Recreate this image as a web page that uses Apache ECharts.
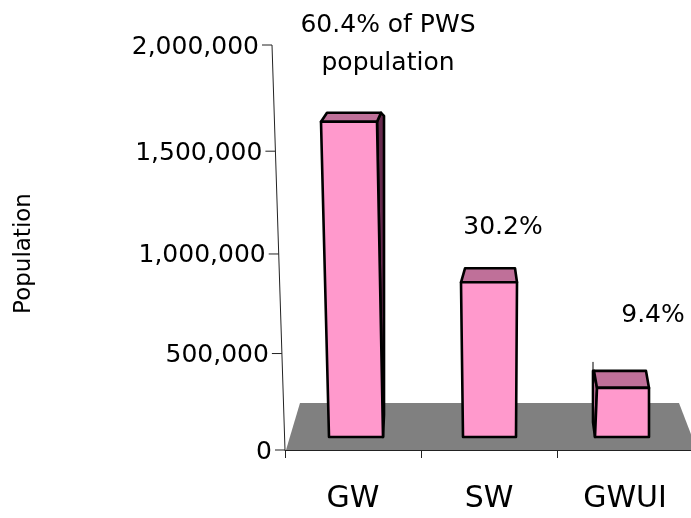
<!DOCTYPE html>
<html>
<head>
<meta charset="utf-8">
<style>html,body{margin:0;padding:0;background:#fff}#c{width:691px;height:518px}</style>
<script src="https://cdn.jsdelivr.net/npm/echarts@6/dist/echarts.min.js"></script>
</head>
<body>
<div id="c"></div>
<script>
const categories = ['GW', 'SW', 'GWUI'];
const population = [1650000, 810000, 257000];
const shares = ['60.4% of PWS\npopulation', '30.2%', '9.4%'];
const yTicks = [0, 500000, 1000000, 1500000, 2000000];
const yMax = 2000000;

const FONT = '"DejaVu Sans", sans-serif';
// Drawing geometry of the pseudo-3D look, px relative to each category centre.
const barShape = [
  {bl:-24, br:30, tl:-32, tr:24, bkl:-26, bkr:28, rise:9,  sideR:31, sideBottom:415, lx:35, ly:-68},
  {bl:-26, br:27, tl:-28, tr:28, bkl:-24, bkr:26, rise:14, lx:14, ly:-41},
  {bl:-30, br:24, tl:-28, tr:24, bkl:-31, bkr:21, rise:17, sideL:-32, sideBottom:422, spike:9, lx:28, ly:-55}
];
const FILL = '#FF99CC', TOP = '#BF7099', SIDE = '#66294D', EDGE = '#000';

function poly(points, fill) {
  return {type:'polygon', shape:{points}, style:{fill, stroke:EDGE, lineWidth:2.6, lineJoin:'round'}};
}
function renderBar(params, api) {
  const i = api.value(0), s = barShape[i];
  const c = api.coord([i, 0])[0];
  const base = api.coord([i, 0])[1];
  const top = api.coord([i, api.value(1)])[1];
  const back = top - s.rise;
  const kids = [];
  if (s.sideR) {
    kids.push(poly([[c+s.tr,top],[c+s.bkr,back],[c+s.sideR,back+3],[c+s.sideR,s.sideBottom],[c+s.br,base]], SIDE));
  }
  if (s.sideL) {
    kids.push(poly([[c+s.tl,top],[c+s.bkl,back],[c+s.sideL,back],[c+s.sideL,s.sideBottom],[c+s.bl,base]], FILL));
    kids.push({type:'line', shape:{x1:c+s.sideL,y1:back-s.spike,x2:c+s.sideL,y2:back}, style:{stroke:EDGE,lineWidth:1}});
  }
  kids.push(poly([[c+s.tl,top],[c+s.bkl,back],[c+s.bkr,back],[c+s.tr,top]], TOP));
  kids.push(poly([[c+s.bl,base],[c+s.tl,top],[c+s.tr,top],[c+s.br,base]], FILL));
  return {type:'group', children:kids};
}
function renderShare(params, api) {
  const i = api.value(0), s = barShape[i];
  const c = api.coord([i, 0])[0];
  const top = api.coord([i, api.value(1)])[1];
  return {type:'text', style:{
    x:c+s.lx, y:top-s.rise+s.ly, text:shares[i], align:'center', verticalAlign:'middle',
    font:'25px '+FONT, lineHeight:38, fill:'#000'
  }};
}
function renderFloor(params, api) {
  const g = params.coordSys;
  const y0 = g.y + g.height, yb = y0 - 47;
  return {type:'polygon', shape:{points:[[g.x+1,y0],[g.x+15,yb],[g.x+394,yb],[g.x+g.width+4,y0]]}, style:{fill:'#808080'}};
}
function renderYAxis(params, api) {
  const g = params.coordSys, v = api.value(0);
  const y0 = api.coord([0, 0])[1], y1 = api.coord([0, yMax])[1];
  const t = v / yMax, b = 0.062;
  const y = y0 + (y1 - y0) * (1 - b) * t / (1 - b * t);
  const lean = 13 / (y0 - y1);
  const x = g.x - (y0 - y) * lean;
  const kids = [
    {type:'line', shape:{x1:x-10,y1:y,x2:x,y2:y}, style:{stroke:'#222',lineWidth:1}},
    {type:'text', style:{x:x-13,y:y+2,text:api.value(0).toLocaleString('en-US'),align:'right',verticalAlign:'middle',font:'25px '+FONT,fill:'#000'}}
  ];
  if (v === yMax) {
    kids.push({type:'line', shape:{x1:g.x-13,y1:y1,x2:g.x,y2:y0}, style:{stroke:'#222',lineWidth:1}});
  }
  return {type:'group', children:kids};
}

const chart = echarts.init(document.getElementById('c'), null, {renderer:'canvas'});
chart.setOption({
  animation:false,
  backgroundColor:'#fff',
  grid:{left:285, right:-2, top:45, bottom:68, outerBoundsMode:'none'},
  xAxis:{
    type:'category', data:categories, z:5,
    axisLine:{lineStyle:{color:'#222',width:1}},
    axisTick:{show:true, length:8, alignWithLabel:false, lineStyle:{color:'#222',width:1}},
    axisLabel:{fontFamily:FONT, fontSize:30, color:'#000', margin:34, interval:0},
    splitLine:{show:false}
  },
  yAxis:[
    {type:'value', min:0, max:yMax, interval:500000,
     name:'Population', nameLocation:'middle', nameGap:249, nameRotate:90,
     nameTextStyle:{fontFamily:FONT, fontSize:23, color:'#000', padding:[0,12,0,0]},
     axisLine:{show:false}, axisTick:{show:false}, axisLabel:{show:false}, splitLine:{show:false}},
    // Bars stand inset on the floor, so they read against their own scale.
    {type:'value', min:-68000, max:2052000, show:false, splitLine:{show:false}}
  ],
  series:[
    {type:'custom', name:'floor', coordinateSystem:'cartesian2d', z:1, silent:true, data:[[0,0]], renderItem:renderFloor, clip:false},
    {type:'custom', name:'axis', coordinateSystem:'cartesian2d', z:3, silent:true, data:yTicks.map(v=>[v]), encode:{y:0}, renderItem:renderYAxis, clip:false},
    {type:'custom', name:'Population', coordinateSystem:'cartesian2d', yAxisIndex:1, z:4, data:population.map((v,i)=>[i,v]), encode:{x:0,y:1}, renderItem:renderBar, clip:false},
    {type:'custom', name:'Share', coordinateSystem:'cartesian2d', yAxisIndex:1, z:6, silent:true, data:population.map((v,i)=>[i,v]), encode:{x:0,y:1}, renderItem:renderShare, clip:false}
  ]
});
</script>
</body>
</html>
